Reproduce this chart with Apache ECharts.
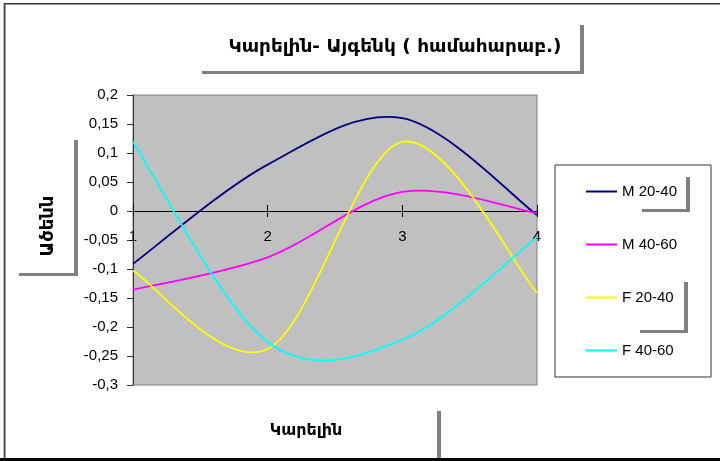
<!DOCTYPE html>
<html>
<head>
<meta charset="utf-8">
<title>Կարելին- Այգենկ</title>
<script src="https://cdn.jsdelivr.net/npm/echarts@6/dist/echarts.min.js"></script>
<style>
  html, body { margin: 0; padding: 0; background: #fff; }
  #chart { width: 720px; height: 461px; }
</style>
</head>
<body>
<div id="chart"></div>
<script>
// X 轴的类别
var categories = ['1', '2', '3', '4'];
// 各组数据
var m2040 = [-0.091, 0.080, 0.160, -0.007];
var m4060 = [-0.136, -0.080, 0.033, -0.004];
var f2040 = [-0.103, -0.238, 0.119, -0.141];
var f4060 = [0.119, -0.226, -0.222, -0.045];
var seriesNames = ['M 20-40', 'M 40-60', 'F 20-40', 'F 40-60'];
var seriesColors = ['#000080', '#ff00ff', '#ffff00', '#00ffff'];

var armFont = 'DejaVu Sans';
var numFont = 'Liberation Sans';
var shadow = '#808080';

// Excel 风格的平滑曲线（ECharts 自带的 smooth 不会越过数据点）
function makeLine(name, values, color) {
  return {
    name: name,
    type: 'custom',
    coordinateSystem: 'cartesian2d',
    data: values.map(function (v, i) { return [i, v]; }),
    itemStyle: { color: color },
    renderItem: function (params, api) {
      if (params.dataIndex !== 0) {
        return null;
      }
      var pts = values.map(function (v, i) { return api.coord([i, v]); });
      var d = 'M' + pts[0][0] + ',' + pts[0][1];
      for (var i = 0; i < pts.length - 1; i++) {
        var p0 = pts[i - 1] || pts[i];
        var p1 = pts[i];
        var p2 = pts[i + 1];
        var p3 = pts[i + 2] || pts[i + 1];
        var c1x = p1[0] + (p2[0] - p0[0]) / 6;
        var c1y = p1[1] + (p2[1] - p0[1]) / 6;
        var c2x = p2[0] - (p3[0] - p1[0]) / 6;
        var c2y = p2[1] - (p3[1] - p1[1]) / 6;
        d += ' C' + c1x + ',' + c1y + ' ' + c2x + ',' + c2y + ' ' + p2[0] + ',' + p2[1];
      }
      return {
        type: 'path',
        shape: { pathData: d },
        style: { stroke: color, fill: null, lineWidth: 1.8 }
      };
    }
  };
}

// 灰色的阴影框线
function bar(x, y, w, h) {
  return { type: 'rect', shape: { x: x, y: y, width: w, height: h }, style: { fill: shadow }, silent: true };
}

var chart = echarts.init(document.getElementById('chart'));
chart.setOption({
  animation: false,
  backgroundColor: '#fff',
  title: {
    text: 'Կարելին- Այգենկ ( համահարաբ.)',
    left: 390,
    top: 33,
    textAlign: 'center',
    textStyle: { fontFamily: armFont, fontSize: 18.5, fontWeight: 'bold', color: '#000' }
  },
  legend: {
    orient: 'vertical',
    left: 555,
    top: 165,
    padding: [19, 34, 19, 31],
    itemGap: 38,
    itemWidth: 31,
    itemHeight: 2,
    icon: 'rect',
    borderColor: '#333',
    borderWidth: 1,
    textStyle: { fontFamily: numFont, fontSize: 15, lineHeight: 14, color: '#000' },
    data: seriesNames
  },
  grid: {
    left: 133,
    top: 95,
    width: 404,
    height: 290,
    outerBoundsMode: 'none',
    containLabel: false,
    show: true,
    backgroundColor: '#c0c0c0',
    borderColor: '#808080',
    borderWidth: 1
  },
  xAxis: [{
    type: 'category',
    data: categories,
    boundaryGap: false,
    name: 'Կարելին',
    nameLocation: 'middle',
    nameGap: 38,
    nameTextStyle: { fontFamily: armFont, fontSize: 16, fontWeight: 'bold', color: '#000', padding: [0, 58, 0, 0] },
    axisLine: { onZero: true, lineStyle: { color: '#000', width: 1 } },
    axisTick: { length: 6, lineStyle: { color: '#000' } },
    // 标签放在零线下方
    axisLabel: { margin: -156, fontFamily: numFont, fontSize: 15, color: '#000' }
  }, {
    // 零线上方的刻度，和下方的拼成十字刻度（offset 把顶部轴移到零线）
    type: 'category',
    data: categories,
    boundaryGap: false,
    position: 'top',
    offset: -116,
    axisLine: { show: true, onZero: false, lineStyle: { color: 'rgba(0,0,0,0)' } },
    axisTick: { length: 6, lineStyle: { color: '#000' } },
    axisLabel: { show: false }
  }],
  yAxis: {
    type: 'value',
    min: -0.3,
    max: 0.2,
    interval: 0.05,
    name: 'Ածենն',
    nameLocation: 'middle',
    nameRotate: 90,
    nameGap: 76,
    nameTextStyle: { fontFamily: armFont, fontSize: 18, fontWeight: 'bold', color: '#000', padding: [0, 0, 0, 28] },
    axisLine: { show: true, lineStyle: { color: '#333', width: 1 } },
    axisTick: { show: true, length: 6, lineStyle: { color: '#333' } },
    splitLine: { show: false },
    axisLabel: {
      margin: 15,
      fontFamily: numFont,
      fontSize: 15,
      color: '#000',
      formatter: function (v) { return String(Math.round(v * 100) / 100).replace('.', ','); }
    }
  },
  graphic: [
    // 外框
    { type: 'rect', shape: { x: 4, y: 3, width: 716, height: 1.5 }, style: { fill: '#333' }, silent: true },
    { type: 'rect', shape: { x: 3, y: 3, width: 1, height: 455 }, style: { fill: '#bbb' }, silent: true },
    { type: 'rect', shape: { x: 4, y: 3, width: 1.5, height: 455 }, style: { fill: '#444' }, silent: true },
    { type: 'rect', shape: { x: 0, y: 458, width: 720, height: 3 }, style: { fill: '#000' }, silent: true },
    // 标题阴影
    bar(202, 71, 382, 3),
    bar(580, 25, 4, 49),
    // Y 轴名阴影
    bar(74, 140, 4, 136),
    bar(19, 273, 59, 3),
    // X 轴名阴影
    bar(437, 411, 4, 47),
    // 图例阴影
    bar(686, 177, 4, 35),
    bar(642, 209, 48, 3),
    bar(684, 282, 4, 51),
    bar(640, 330, 48, 3)
  ],
  series: [
    makeLine(seriesNames[0], m2040, seriesColors[0]),
    makeLine(seriesNames[1], m4060, seriesColors[1]),
    makeLine(seriesNames[2], f2040, seriesColors[2]),
    makeLine(seriesNames[3], f4060, seriesColors[3])
  ]
});
</script>
</body>
</html>
